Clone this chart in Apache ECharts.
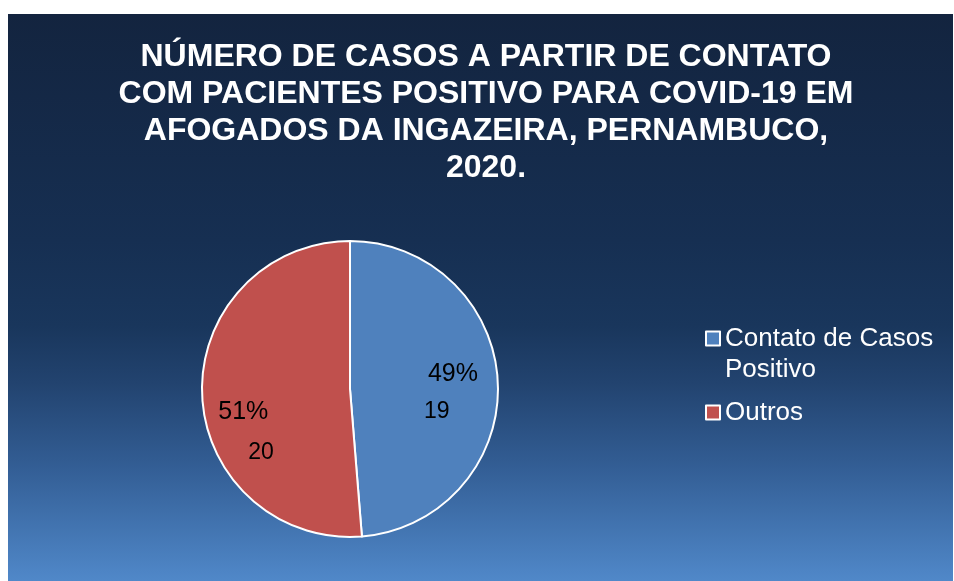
<!DOCTYPE html>
<html>
<head>
<meta charset="utf-8">
<script src="https://cdn.jsdelivr.net/npm/echarts@6/dist/echarts.min.js"></script>
<style>
  html, body { margin: 0; padding: 0; background: #fff; }
  .panel {
    position: absolute; left: 8px; top: 14px; width: 945px; height: 567px;
    background: linear-gradient(to bottom, #13243f 0%, #162f52 40%, #19365c 55%, #22436f 65%, #335e95 80%, #5088c9 100%);
  }
  #chart { position: absolute; left: 0; top: 0; width: 954px; height: 581px; }
</style>
</head>
<body>
<div class="panel"></div>
<div id="chart"></div>
<script>
// dados
const categorias = ['Contato de Casos Positivo', 'Outros']
const valores = [19, 20]
const cores = ['#4f81bd', '#c0504d']

const chart = echarts.init(document.getElementById('chart'))

const fonte = 'Liberation Sans'

chart.setOption({
  backgroundColor: 'transparent',
  title: {
    text: 'NÚMERO DE CASOS A PARTIR DE CONTATO\nCOM PACIENTES POSITIVO PARA COVID-19 EM\nAFOGADOS DA INGAZEIRA, PERNAMBUCO,\n2020.',
    left: 481,
    top: 34,
    textAlign: 'center',
    textStyle: {
      color: '#fff',
      fontFamily: fonte,
      fontWeight: 'bold',
      fontSize: 32,
      lineHeight: 37
    }
  },
  legend: {
    orient: 'vertical',
    left: 700,
    top: 287,
    itemWidth: 14,
    itemHeight: 14,
    itemGap: 12,
    icon: 'rect',
    itemStyle: { borderColor: '#fff', borderWidth: 2 },
    formatter: name => name === 'Contato de Casos Positivo' ? ' \nContato de Casos\nPositivo' : name,
    textStyle: {
      color: '#fff',
      fontFamily: fonte,
      fontSize: 26,
      lineHeight: 31
    },
    data: categorias
  },
  series: [{
    type: 'pie',
    center: [350, 389],
    radius: 148,
    startAngle: 90,
    clockwise: true,
    silent: true,
    itemStyle: { borderColor: '#fff', borderWidth: 2 },
    label: {
      position: 'inside',
      formatter: p => '{p|' + Math.round(p.percent) + '%}\n{v|' + p.value + '}',
      rich: {
        p: { color: '#000', fontFamily: fonte, fontSize: 25, lineHeight: 38, align: 'left' },
        v: { color: '#000', fontFamily: fonte, fontSize: 23, lineHeight: 38, align: 'left' }
      }
    },
    labelLine: { show: false },
    data: categorias.map((c, i) => ({
      name: c,
      value: valores[i],
      itemStyle: { color: cores[i] },
      label: i === 0
        ? { offset: [24, 7], rich: { p: { padding: [0, 0, 0, 4] } } }
        : { offset: [-27, 41], rich: { p: { lineHeight: 40 }, v: { lineHeight: 42, padding: [0, 0, 0, 30] } } }
    }))
  }]
})
</script>
</body>
</html>
